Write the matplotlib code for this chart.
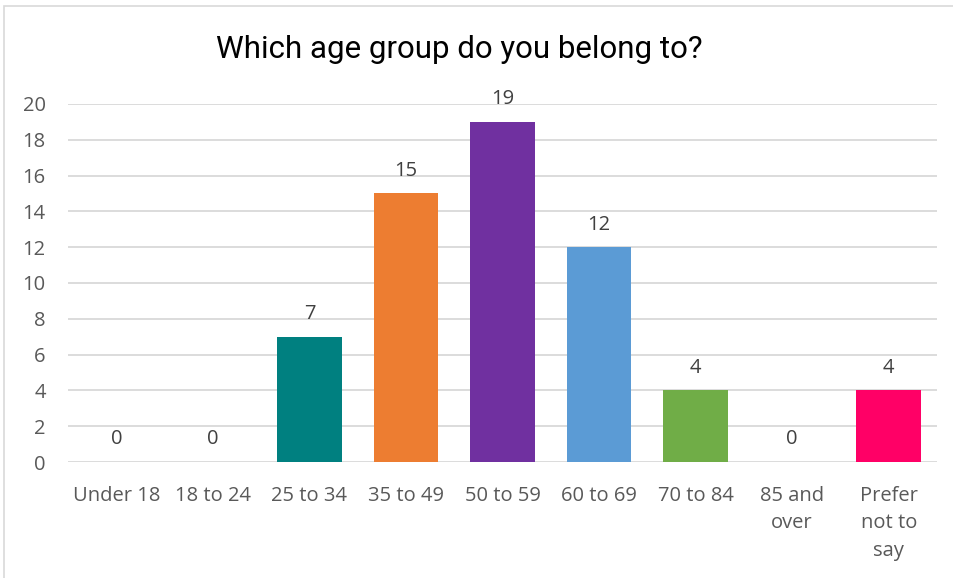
import matplotlib.pyplot as plt
from matplotlib.patches import Rectangle

categories = ["Under 18", "18 to 24", "25 to 34", "35 to 49", "50 to 59",
              "60 to 69", "70 to 84", "85 and\nover", "Prefer\nnot to\nsay"]
counts = [0, 0, 7, 15, 19, 12, 4, 0, 4]
bar_colors = ["#008080", "#008080", "#008080", "#ED7D31", "#7030A0",
              "#5B9BD5", "#70AD47", "#70AD47", "#FF0066"]
title = "Which age group do you belong to?"

W, H = 954, 578
fig = plt.figure(figsize=(W / 100, H / 100), dpi=100)
ax = fig.add_axes([68 / W, 1 - 462 / H, (937 - 68) / W, (462 - 104) / H])

# chart frame
fig.patches.append(Rectangle((4 / W, -0.1), 1.2, 1.1 - 6 / H, transform=fig.transFigure,
                             fill=False, edgecolor="#D9D9D9", linewidth=1.2))

x = range(len(categories))
ax.bar(x, counts, width=0.67, color=bar_colors, zorder=3)
for i, v in enumerate(counts):
    ax.annotate(str(v), (i, v), xytext=(0, 9), textcoords="offset points",
                ha="center", va="bottom", fontsize=14.5, color="#404040",
                family="Open Sans")

ax.set_xlim(-0.5, len(categories) - 0.5)
ax.set_ylim(0, 20)
ax.set_yticks(range(0, 21, 2))
ax.grid(axis="y", color="#D9D9D9", linewidth=1.3, zorder=0)
for s in ax.spines.values():
    s.set_visible(False)
ax.tick_params(length=0, labelsize=14.5, labelcolor="#595959")
ax.tick_params(axis="x", pad=17)
ax.tick_params(axis="y", pad=16)
ax.set_xticks(list(x))
ax.set_xticklabels(categories, family="Open Sans", linespacing=1.52, va="top")
for lab in ax.get_yticklabels():
    lab.set_family("Open Sans")

fig.text(0.481, 1 - 50 / H, title, ha="center", va="center", fontsize=22.5,
         family="Roboto", color="#000000")

fig.savefig("out.png", dpi=100)
